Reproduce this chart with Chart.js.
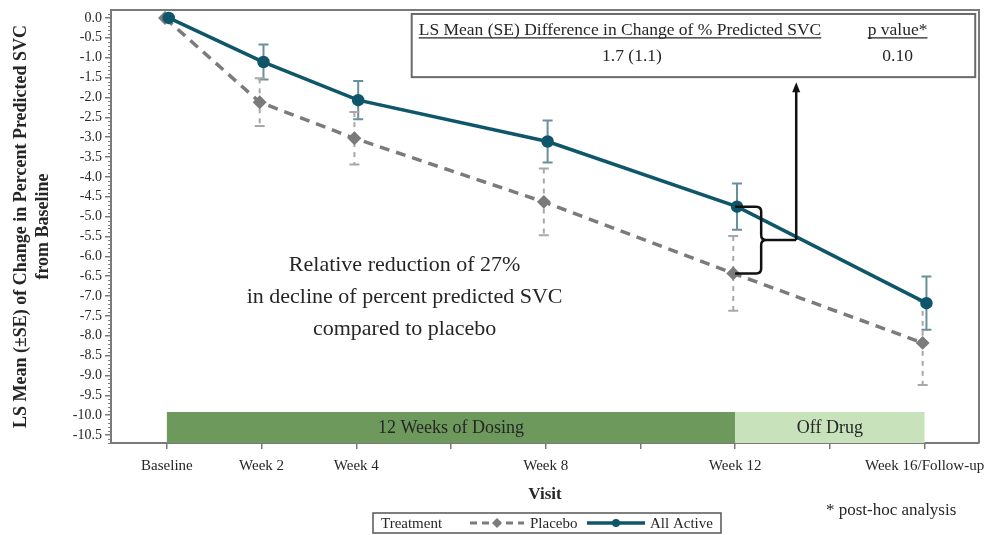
<!DOCTYPE html>
<html>
<head>
<meta charset="utf-8">
<script src="https://cdn.jsdelivr.net/npm/chart.js@4"></script>
<style>
  html, body { margin: 0; padding: 0; background: #fff; }
</style>
</head>
<body>
<canvas id="svcChart" width="987" height="535"></canvas>
<script>
// Visits (weeks) and labels
const weeks = [0, 2, 4, 8, 12, 16];
const visitLabels = ["Baseline", "Week 2", "Week 4", "Week 8", "Week 12", "Week 16/Follow-up"];
const xTickWeeks = [0, 2, 4, 6, 8, 10, 12, 14, 16];
const yTickValues = [0.0, -0.5, -1.0, -1.5, -2.0, -2.5, -3.0, -3.5, -4.0, -4.5, -5.0,
                     -5.5, -6.0, -6.5, -7.0, -7.5, -8.0, -8.5, -9.0, -9.5, -10.0, -10.5];

// LS mean change in % predicted SVC and SE
const activeMean = [0, -1.11, -2.07, -3.11, -4.75, -7.18];
const activeSE = [0, 0.44, 0.48, 0.53, 0.58, 0.67];
const placeboMean = [0, -2.12, -3.03, -4.63, -6.43, -8.18];
const placeboSE = [0, 0.6, 0.66, 0.84, 0.94, 1.06];

// Dosing phases
const phaseNames = ["12 Weeks of Dosing", "Off Drug"];
const phaseStart = [0, 12];
const phaseEnd = [12, 16];

// Treatment difference table
const diffHeader = "LS Mean (SE) Difference in Change of % Predicted SVC";
const diffValue = "1.7 (1.1)";
const pHeader = "p value*";
const pValue = "0.10";
const reductionText = ["Relative reduction of 27%", "in decline of percent predicted SVC", "compared to placebo"];

const serif = "'Liberation Serif', 'Times New Roman', serif";
const activeColor = "#0f566a";
const placeboColor = "#7b7b7b";
const axisColor = "#7a7a7a";
const textColor = "#262626";
const clusterOffset = 0.04;

const ctx = document.getElementById("svcChart").getContext("2d");

// Bandes de phase + barres d'erreur (sous les courbes)
function drawUnder(chart) {
    const { ctx, scales: { x, y } } = chart;
    const bandColors = ["#6d9a5c", "#c8e3bb"];
    const top = y.getPixelForValue(-9.92);
    const bottom = chart.chartArea.bottom;
    ctx.save();
    phaseNames.forEach((name, i) => {
        const x0 = x.getPixelForValue(phaseStart[i]);
        const x1 = x.getPixelForValue(phaseEnd[i]);
        ctx.fillStyle = bandColors[i];
        ctx.fillRect(x0, top, x1 - x0, bottom - top);
        ctx.fillStyle = textColor;
        ctx.font = "18px " + serif;
        ctx.textAlign = "center";
        ctx.textBaseline = "middle";
        ctx.fillText(name, (x0 + x1) / 2, (top + bottom) / 2 + 1);
    });

    chart.data.datasets.forEach(ds => {
        ds.data.forEach((pt, i) => {
            const se = ds.se[i];
            if (!se) return;
            const px = x.getPixelForValue(pt.x);
            const yTop = y.getPixelForValue(pt.y + se);
            const yBot = y.getPixelForValue(pt.y - se);
            ctx.strokeStyle = ds.errColor;
            ctx.lineWidth = 2;
            ctx.setLineDash(ds.errDash);
            ctx.beginPath();
            ctx.moveTo(px, yTop);
            ctx.lineTo(px, yBot);
            ctx.stroke();
            ctx.setLineDash([]);
            ctx.beginPath();
            ctx.moveTo(px - 5, yTop); ctx.lineTo(px + 5, yTop);
            ctx.moveTo(px - 5, yBot); ctx.lineTo(px + 5, yBot);
            ctx.stroke();
        });
    });
    ctx.restore();
}

// Accolade, flèche, tableau et texte
function drawOver(chart) {
    const { ctx, scales: { x, y } } = chart;
    ctx.save();

    // accolade entre les deux groupes à la semaine 12
    const i12 = weeks.indexOf(12);
    const xa = x.getPixelForValue(12);
    const xb = x.getPixelForValue(12.55);
    const xt = x.getPixelForValue(13.29);
    const ya = y.getPixelForValue(activeMean[i12]);
    const yp = y.getPixelForValue(placeboMean[i12]);
    const ym = (ya + yp) / 2;
    const r = 5;
    ctx.strokeStyle = "#111";
    ctx.lineWidth = 2.5;
    ctx.beginPath();
    ctx.moveTo(xa, ya);
    ctx.lineTo(xb - r, ya);
    ctx.quadraticCurveTo(xb, ya, xb, ya + r);
    ctx.lineTo(xb, ym - r);
    ctx.quadraticCurveTo(xb, ym, xb + r, ym);
    ctx.lineTo(xt, ym);
    ctx.moveTo(xb + r, ym);
    ctx.quadraticCurveTo(xb, ym, xb, ym + r);
    ctx.lineTo(xb, yp - r);
    ctx.quadraticCurveTo(xb, yp, xb - r, yp);
    ctx.lineTo(xa, yp);
    ctx.stroke();

    // flèche vers le tableau
    const boxBottom = y.getPixelForValue(-1.49);
    const arrowTip = boxBottom + 5;
    ctx.beginPath();
    ctx.moveTo(xt, ym);
    ctx.lineTo(xt, arrowTip + 8);
    ctx.stroke();
    ctx.fillStyle = "#111";
    ctx.beginPath();
    ctx.moveTo(xt, arrowTip);
    ctx.lineTo(xt - 4, arrowTip + 10);
    ctx.lineTo(xt + 4, arrowTip + 10);
    ctx.closePath();
    ctx.fill();

    // tableau de différence
    const bx0 = x.getPixelForValue(5.17);
    const bx1 = x.getPixelForValue(17.07);
    const by0 = y.getPixelForValue(0.1);
    ctx.strokeStyle = "#6a6a6a";
    ctx.lineWidth = 2;
    ctx.strokeRect(bx0, by0, bx1 - bx0, boxBottom - by0);

    ctx.fillStyle = textColor;
    ctx.font = "17.5px " + serif;
    ctx.textBaseline = "alphabetic";
    ctx.textAlign = "left";
    const hx = bx0 + 7, hy = by0 + 21;
    ctx.fillText(diffHeader, hx, hy);
    const hw = ctx.measureText(diffHeader).width;
    const px0 = bx0 + 456;
    ctx.fillText(pHeader, px0, hy);
    const pw = ctx.measureText(pHeader).width;
    ctx.lineWidth = 1.2;
    ctx.strokeStyle = textColor;
    ctx.beginPath();
    ctx.moveTo(hx, hy + 3); ctx.lineTo(hx + hw, hy + 3);
    ctx.moveTo(px0, hy + 3); ctx.lineTo(px0 + pw, hy + 3);
    ctx.stroke();
    ctx.textAlign = "center";
    ctx.fillText(diffValue, hx + hw / 2 + 12, hy + 26);
    ctx.fillText(pValue, px0 + pw / 2, hy + 26);

    // texte central
    ctx.font = "22px " + serif;
    ctx.textBaseline = "middle";
    const cx = x.getPixelForValue(5.02);
    const cy = y.getPixelForValue(-6.22);
    reductionText.forEach((t, k) => ctx.fillText(t, cx, cy + k * 32));
    ctx.restore();
}

// Cadre, graduations mineures, légende, note
function drawFrame(chart) {
    const { ctx, chartArea: a, scales: { y } } = chart;
    ctx.save();
    ctx.strokeStyle = axisColor;
    ctx.lineWidth = 2;
    ctx.beginPath();
    ctx.moveTo(a.left, a.top);
    ctx.lineTo(a.right, a.top);
    ctx.lineTo(a.right, a.bottom);
    ctx.stroke();

    ctx.lineWidth = 1;
    ctx.beginPath();
    for (let k = 1; k >= -107; k--) {
        if (k % 5 === 0) continue;
        const py = Math.round(y.getPixelForValue(k / 10)) + 0.5;
        ctx.moveTo(a.left - 3, py);
        ctx.lineTo(a.left, py);
    }
    ctx.stroke();

    // légende
    const lx = 373, ly = 513, lw = 348, lh = 20, mid = ly + lh / 2;
    ctx.strokeStyle = "#555";
    ctx.lineWidth = 1.5;
    ctx.strokeRect(lx, ly, lw, lh);
    ctx.fillStyle = textColor;
    ctx.font = "15px " + serif;
    ctx.textBaseline = "middle";
    ctx.textAlign = "left";
    ctx.fillText("Treatment", lx + 8, mid + 1);

    const [actDs, plaDs] = chart.data.datasets;
    // placebo
    ctx.strokeStyle = plaDs.borderColor;
    ctx.lineWidth = 3;
    ctx.setLineDash([7, 5]);
    ctx.beginPath(); ctx.moveTo(470, mid); ctx.lineTo(524, mid); ctx.stroke();
    ctx.setLineDash([]);
    ctx.fillStyle = plaDs.borderColor;
    ctx.beginPath();
    ctx.moveTo(497, mid - 5); ctx.lineTo(502, mid); ctx.lineTo(497, mid + 5); ctx.lineTo(492, mid);
    ctx.closePath(); ctx.fill();
    ctx.fillStyle = textColor;
    ctx.fillText(plaDs.label, 530, mid + 1);
    // actif
    ctx.strokeStyle = actDs.borderColor;
    ctx.lineWidth = 3.5;
    ctx.beginPath(); ctx.moveTo(587, mid); ctx.lineTo(645, mid); ctx.stroke();
    ctx.fillStyle = actDs.borderColor;
    ctx.beginPath(); ctx.arc(616, mid, 4, 0, Math.PI * 2); ctx.fill();
    ctx.fillStyle = textColor;
    ctx.fillText(actDs.label, 650, mid + 1);

    ctx.font = "17px " + serif;
    ctx.fillText("* post-hoc analysis", 826, 511);
    ctx.restore();
}

const decorPlugin = {
    id: "decor",
    beforeDatasetsDraw: drawUnder,
    afterDatasetsDraw: drawOver,
    afterDraw: drawFrame,
};

new Chart(ctx, {
    type: "line",
    data: {
        datasets: [
            {
                label: "All Active",
                data: weeks.map((w, i) => ({ x: w + clusterOffset, y: activeMean[i] })),
                borderColor: activeColor,
                backgroundColor: activeColor,
                borderWidth: 3.5,
                pointStyle: "circle",
                pointRadius: 4.5,
                pointBackgroundColor: activeColor,
                pointBorderColor: activeColor,
                tension: 0,
                se: activeSE,
                errColor: "#68909a",
                errDash: [],
            },
            {
                label: "Placebo",
                data: weeks.map((w, i) => ({ x: w - clusterOffset, y: placeboMean[i] })),
                borderColor: placeboColor,
                backgroundColor: placeboColor,
                borderWidth: 3.5,
                borderDash: [10, 7],
                pointStyle: "rectRot",
                pointRadius: 4.5,
                pointBackgroundColor: placeboColor,
                pointBorderColor: placeboColor,
                tension: 0,
                se: placeboSE,
                errColor: "#a8a8a8",
                errDash: [5, 5],
            },
        ],
    },
    options: {
        responsive: false,
        animation: false,
        devicePixelRatio: 1,
        layout: { padding: { top: 10, right: 7, left: 0, bottom: 0 } },
        plugins: {
            legend: { display: false },
            tooltip: { enabled: false },
        },
        scales: {
            x: {
                type: "linear",
                min: -1.18,
                max: 17.15,
                afterBuildTicks: axis => { axis.ticks = xTickWeeks.map(v => ({ value: v })); },
                afterFit: s => { s.height = 92; s.paddingLeft = 0; s.paddingRight = 0; },
                ticks: {
                    autoSkip: false,
                    maxRotation: 0,
                    padding: 8,
                    color: textColor,
                    font: { family: serif, size: 15 },
                    callback: v => {
                        const i = weeks.indexOf(v);
                        return i >= 0 ? visitLabels[i] : "";
                    },
                },
                grid: { drawOnChartArea: false, tickLength: 6, color: axisColor, lineWidth: 1.5 },
                border: { color: axisColor, width: 2 },
                title: {
                    display: true,
                    text: "Visit",
                    color: textColor,
                    font: { family: serif, size: 17, weight: "bold" },
                    padding: { top: 0, bottom: 30 },
                },
            },
            y: {
                min: -10.7,
                max: 0.2,
                afterBuildTicks: axis => { axis.ticks = yTickValues.map(v => ({ value: v })); },
                afterFit: s => { s.width = 111; s.paddingTop = 0; s.paddingBottom = 0; },
                ticks: {
                    padding: 3,
                    color: textColor,
                    font: { family: serif, size: 14 },
                    callback: v => v.toFixed(1),
                },
                grid: { drawOnChartArea: false, tickLength: 6, color: axisColor, lineWidth: 1.5 },
                border: { color: axisColor, width: 2 },
                title: {
                    display: true,
                    text: ["LS Mean (±SE) of Change in Percent Predicted SVC", "from Baseline"],
                    color: textColor,
                    font: { family: serif, size: 18, weight: "bold", lineHeight: 1.2 },
                    padding: { top: 11, bottom: 0 },
                },
            },
        },
    },
    plugins: [decorPlugin],
});
</script>
</body>
</html>
